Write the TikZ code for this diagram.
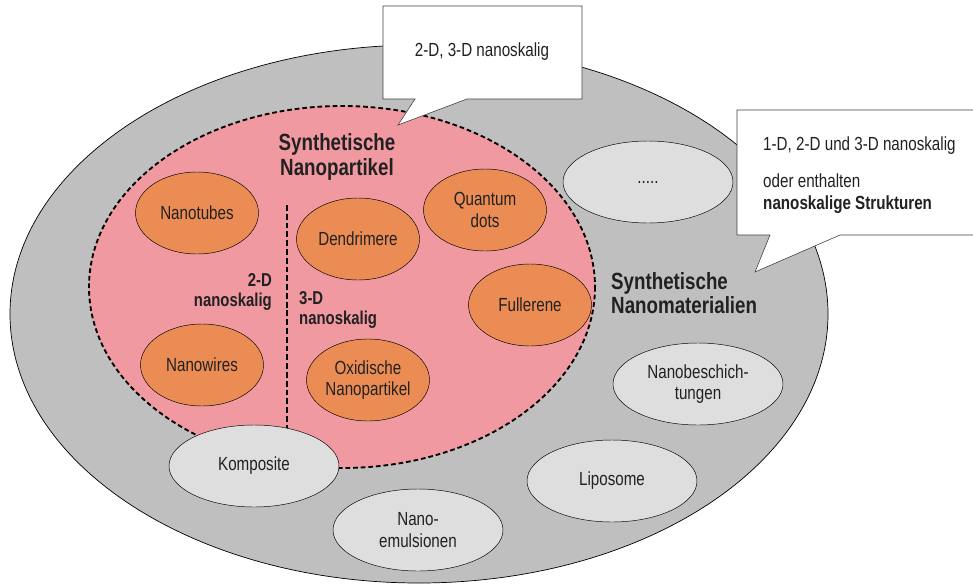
\documentclass[tikz,border=0pt]{standalone}
\usepackage{fontspec}
\setmainfont{Liberation Sans}[FakeStretch=0.8]
\usetikzlibrary{shapes.geometric}
\definecolor{mgray}{rgb}{0.75, 0.75, 0.75}
\definecolor{mpink}{rgb}{0.94, 0.6, 0.63}
\definecolor{morange}{rgb}{0.92, 0.55, 0.33}
\definecolor{mlight}{rgb}{0.87, 0.87, 0.87}
\definecolor{mtext}{rgb}{0.13, 0.13, 0.13}
\tikzset{part/.style = {ellipse, draw, fill=morange, inner sep = 0, text=mtext,
                        minimum width = 3.69cm, minimum height = 2.46cm, align=center,
                        font=\fontsize{16.2}{18.5}\selectfont}}
\tikzset{mat/.style = {part, fill=mlight, minimum width = 5.1cm}}
\tikzset{note/.style = {draw=black!75, fill=white, line width=0.5pt}}
\tikzset{dimlbl/.style = {inner sep = 0, text=mtext, font=\fontsize{15.9}{17.5}\selectfont\bfseries}}
\tikzset{title/.style = {inner sep = 0, text=mtext, font=\fontsize{20}{21}\selectfont\bfseries}}

\begin{document}
\begin{tikzpicture}[x=0.03cm, y=-0.03cm]
    \useasboundingbox (0, 0) rectangle (973, 584);

    % outer and inner sets
    \draw [fill=mgray, line width=0.6pt] (419, 314) ellipse [x radius=409, y radius=269];
    \draw [fill=mpink, dash pattern=on 4pt off 2.5pt, line width=1.6pt] (342, 287) ellipse [x radius=253, y radius=181];
    \draw [dash pattern=on 5pt off 2.5pt, line width=2.4pt] (287, 205) -- (287, 440);

    % callouts
    \draw [note] (383, 6) -- (582, 6) -- (582, 99) -- (467, 99) -- (398, 125) -- (415, 99) -- (383, 99) -- cycle;
    \node (n23) [text=mtext, font=\fontsize{16.2}{18.5}\selectfont] at (482, 52) {2-D, 3-D nanoskalig};

    \draw [note] (737, 110) -- (990, 110) -- (990, 235) -- (840, 235) -- (755, 272) -- (770, 235) -- (737, 235) -- cycle;
    \node (n123) [anchor=west, inner sep=0, align=left, text=mtext, font=\fontsize{16.2}{18.5}\selectfont] at (763, 175)
      {1-D, 2-D und 3-D nanoskalig\\[13pt] oder enthalten\\ \textbf{nanoskalige Strukturen}};

    % nanoparticles
    \node (tubes) [part] at (197, 213) {Nanotubes};
    \node (wires) [part] at (202, 365) {Nanowires};
    \node (dendr) [part] at (358, 239) {Dendrimere};
    \node (qdots) [part] at (485, 210) {Quantum\\dots};
    \node (fulle) [part] at (530, 305) {Fullerene};
    \node (oxide) [part] at (368, 380) {Oxidische\\Nanopartikel};

    % other nanomaterials
    \node (kompo) [mat] at (254, 466) {Komposite};
    \node (emuls) [mat] at (418, 530) {Nano-\\emulsionen};
    \node (lipos) [mat] at (612, 481) {Liposome};
    \node (coats) [mat] at (698, 384) {Nanobeschich-\\tungen};
    \node (dots) [mat] at (648, 182) {.....};

    \node (np) [title, align=center] at (337, 157) {Synthetische\\Nanopartikel};
    \node (nm) [title, align=left, anchor=west] at (611, 293) {Synthetische\\Nanomaterialien};
    \node (d2) [dimlbl, align=right, anchor=east] at (272, 292) {2-D\\nanoskalig};
    \node (d3) [dimlbl, align=left, anchor=west] at (299, 310) {3-D\\nanoskalig};
  \end{tikzpicture}
\end{document}
